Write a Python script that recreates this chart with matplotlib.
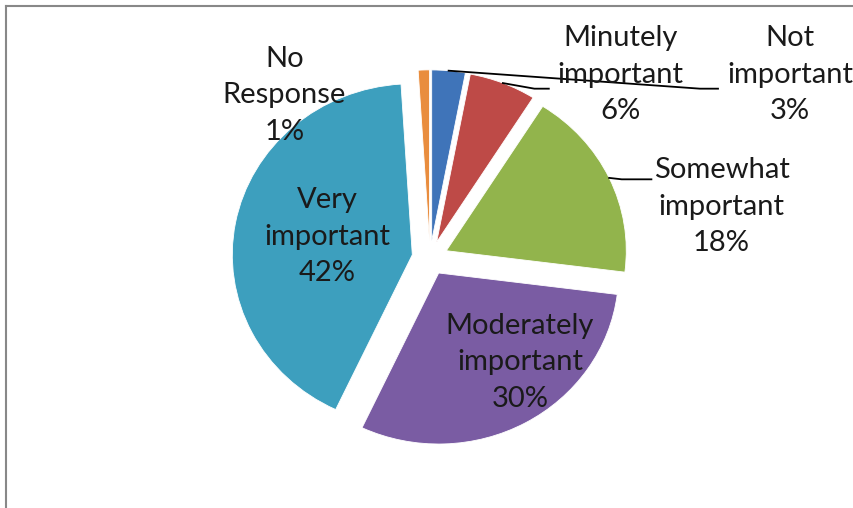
import numpy as np
import matplotlib
matplotlib.use("Agg")
import matplotlib.pyplot as plt

plt.rcParams['font.family'] = ['Lato', 'DejaVu Sans']

labels = ['Not\nimportant', 'Minutely\nimportant', 'Somewhat\nimportant',
          'Moderately\nimportant', 'Very\nimportant', 'No\nResponse']
shares = [3, 6, 18, 30, 42, 1]
colors = ['#3F74B9', '#BE4A47', '#92B44C', '#7A5CA3', '#3D9FBE', '#E98D3E']
explode = [0.1] * len(shares)

# where each label sits (data coords) and whether it gets a leader line
label_pos = [(2.0, 1.07), (1.06, 1.07), (1.62, 0.3),
             (0.50, -0.61), (-0.57, 0.123), (-0.81, 0.953)]
leader = [True, True, True, False, False, False]

fig = plt.figure(figsize=(8.54, 5.08), dpi=100)
ax = fig.add_axes([70 / 854, 2 / 508, 720 / 854, 496 / 508])

wedges, _ = ax.pie(shares, colors=colors, explode=explode, startangle=90,
                   counterclock=False, radius=1.0,
                   wedgeprops=dict(linewidth=0.6, edgecolor='white'))
for w in wedges:
    w.set_clip_on(False)

ax.set_xlim(-2, 2)
ax.set_ylim(-1.45, 1.45)
ax.set_aspect('auto')
ax.axis('off')

for w, lab, val, (tx, ty), lead in zip(wedges, labels, shares, label_pos, leader):
    ax.text(tx, ty, f'{lab}\n{val}%', ha='center', va='center',
            fontsize=21, linespacing=1.5, color='#1a1a1a')
    if not lead:
        continue
    # leader line from the outer edge of the wedge towards its label
    mid = np.deg2rad((w.theta1 + w.theta2) / 2)
    cx, cy = w.center
    sx, sy = cx + w.r * np.cos(mid), cy + w.r * np.sin(mid)
    if lab.startswith('Somewhat'):
        ex, ey = tx - 0.39, ty + 0.16
        ax.plot([sx, sx + 0.07, ex], [sy, ey, ey], color='black', lw=1.3,
                clip_on=False)
    elif lab.startswith('Minutely'):
        ex, ey = tx - 0.4, ty - 0.08
        ax.plot([sx, ex - 0.08, ex], [sy, ey, ey], color='black', lw=1.3,
                clip_on=False)
    else:
        ex, ey = tx - 0.4, ty - 0.08
        ax.plot([sx, ex - 0.1, ex], [sy, ey, ey], color='black', lw=1.3,
                clip_on=False)

# thin frame on the top and left edges
fig.add_artist(plt.Line2D([6 / 854, 6 / 854], [0, 1 - 6 / 508],
                          color='#888888', lw=1.5))
fig.add_artist(plt.Line2D([6 / 854, 1], [1 - 6 / 508, 1 - 6 / 508],
                          color='#888888', lw=1.5))

fig.savefig('out.png', dpi=100)
